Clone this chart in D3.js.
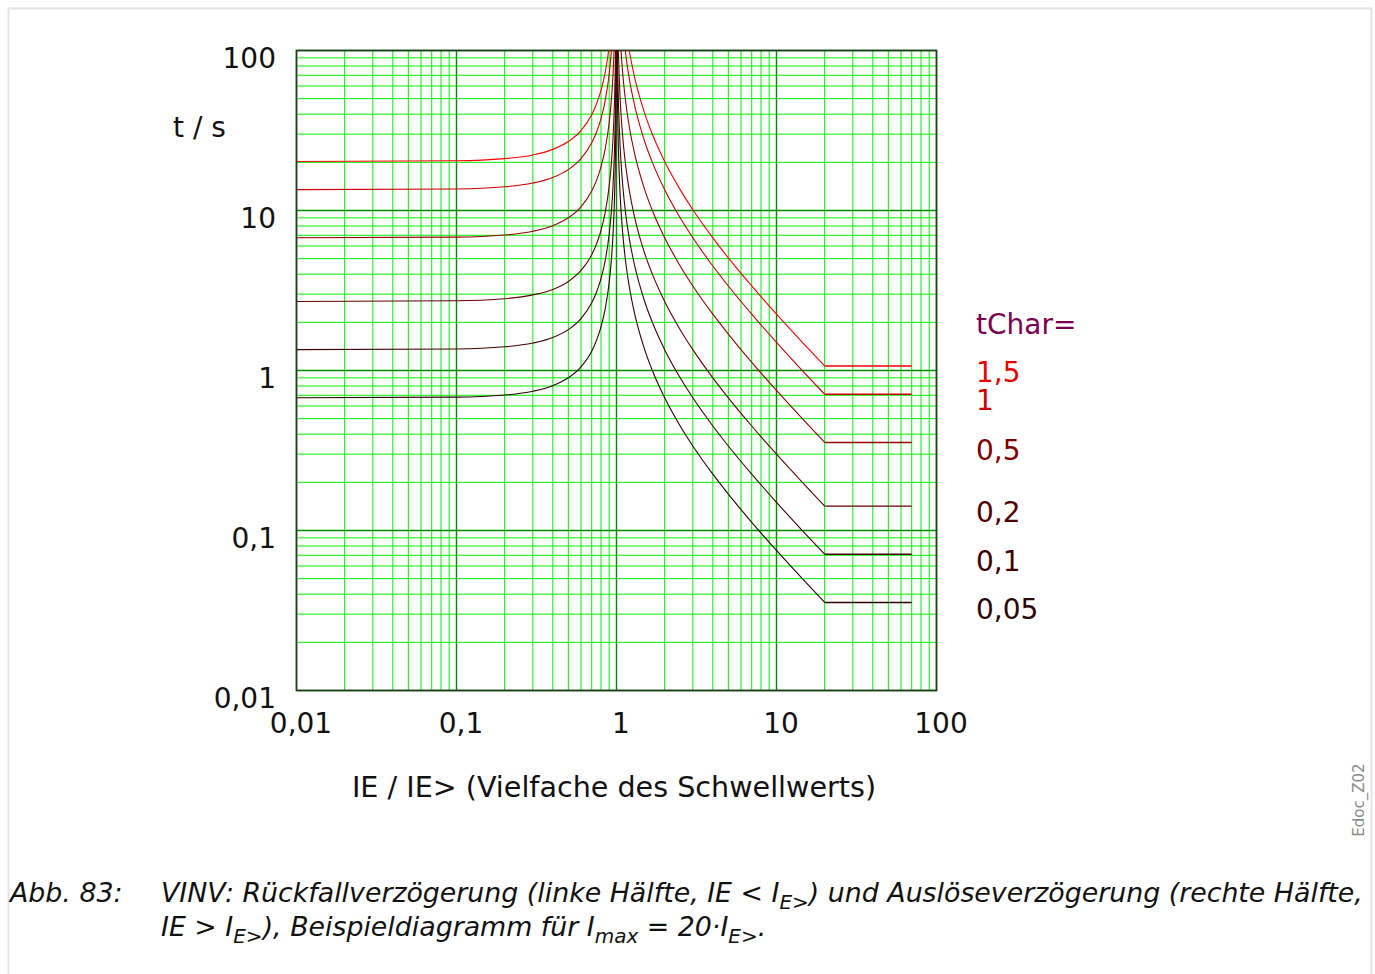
<!DOCTYPE html>
<html><head><meta charset="utf-8">
<script src="https://cdn.jsdelivr.net/npm/d3@7"></script>
<style>
html,body{margin:0;padding:0;background:#fff;}
svg{display:block;}
</style></head>
<body>
<svg id="chart" width="1375" height="974"></svg>
<script>
// ---- data ----
const tChar = [0.05, 0.1, 0.2, 0.5, 1, 1.5];
const tCharLabels = ["0,05", "0,1", "0,2", "0,5", "1", "1,5"];
const curveColors = ["#2e0000", "#440000", "#620000", "#990000", "#cc0000", "#ff0000"];
const labelColors = ["#2a0808", "#3c0000", "#500000", "#800000", "#c80000", "#e60000"];

const xTickValues = [0.01, 0.1, 1, 10, 100];
const xTickLabels = ["0,01", "0,1", "1", "10", "100"];
const yTickValues = [0.01, 0.1, 1, 10, 100];
const yTickLabels = ["0,01", "0,1", "1", "10", "100"];

// reset delay (left half), I/I> < 1
const xReset = [0.01, 0.1, 0.2, 0.3, 0.4, 0.5, 0.6, 0.7, 0.75, 0.8, 0.85, 0.9, 0.93, 0.95, 0.97, 0.98, 0.99, 0.995, 0.998];
const reset005 = [0.675, 0.682, 0.703, 0.742, 0.804, 0.90, 1.055, 1.32, 1.543, 1.875, 2.43, 3.55, 5.0, 6.92, 11.4, 17.0, 33.9, 67.7, 169];
const reset01  = [1.35, 1.364, 1.406, 1.484, 1.607, 1.80, 2.109, 2.647, 3.086, 3.75, 4.865, 7.105, 9.99, 13.85, 22.84, 34.1, 67.8, 135, 338];
const reset02  = [2.70, 2.727, 2.81, 2.97, 3.21, 3.60, 4.22, 5.29, 6.17, 7.50, 9.73, 14.2, 20.0, 27.7, 45.7, 68.2, 135.7, 271, 676];
const reset05  = [6.75, 6.82, 7.03, 7.42, 8.04, 9.00, 10.55, 13.24, 15.43, 18.75, 24.3, 35.5, 50.0, 69.2, 114, 170, 339, 677, 1689];
const reset1   = [13.5, 13.64, 14.06, 14.84, 16.07, 18.0, 21.09, 26.47, 30.86, 37.5, 48.65, 71.05, 99.9, 138.5, 228, 341, 678, 1353, 3378];
const reset15  = [20.25, 20.45, 21.1, 22.25, 24.1, 27.0, 31.6, 39.7, 46.3, 56.25, 73.0, 106.6, 150, 208, 343, 511, 1018, 2030, 5067];

// trip delay (right half), I/I> > 1, constant above Imax = 20
const xTrip = [1.005, 1.01, 1.02, 1.03, 1.05, 1.07, 1.1, 1.15, 1.2, 1.3, 1.5, 1.7, 2, 2.5, 3, 4, 5, 7, 10, 15, 20];
const xTripEnd = 70;
const trip005 = [135, 67.5, 33.75, 22.5, 13.5, 9.64, 6.75, 4.5, 3.375, 2.25, 1.35, 0.964, 0.675, 0.45, 0.3375, 0.225, 0.169, 0.1125, 0.075, 0.0482, 0.0355];
const trip01  = [270, 135, 67.5, 45, 27, 19.29, 13.5, 9.0, 6.75, 4.5, 2.7, 1.93, 1.35, 0.9, 0.675, 0.45, 0.3375, 0.225, 0.15, 0.0964, 0.0711];
const trip02  = [540, 270, 135, 90, 54, 38.6, 27, 18, 13.5, 9.0, 5.4, 3.86, 2.7, 1.8, 1.35, 0.9, 0.675, 0.45, 0.3, 0.193, 0.142];
const trip05  = [1350, 675, 337.5, 225, 135, 96.4, 67.5, 45, 33.75, 22.5, 13.5, 9.64, 6.75, 4.5, 3.375, 2.25, 1.69, 1.125, 0.75, 0.482, 0.355];
const trip1   = [2700, 1350, 675, 450, 270, 192.9, 135, 90, 67.5, 45, 27, 19.29, 13.5, 9.0, 6.75, 4.5, 3.375, 2.25, 1.5, 0.964, 0.7105];
const trip15  = [4050, 2025, 1012, 675, 405, 289, 202.5, 135, 101, 67.5, 40.5, 28.9, 20.25, 13.5, 10.1, 6.75, 5.06, 3.375, 2.25, 1.446, 1.066];

const resetSeries = [reset005, reset01, reset02, reset05, reset1, reset15];
const tripSeries = [trip005, trip01, trip02, trip05, trip1, trip15];
const legendY = [619, 571, 522, 460, 410, 382];

// ---- drawing ----
const svg = d3.select("#chart");
const L = 296.5, T = 50.5, W = 640, H = 640;
const x = d3.scaleLog().domain([0.01, 100]).range([L, L + W]);
const y = d3.scaleLog().domain([0.01, 100]).range([T + H, T]);

// outer frame
svg.append("rect").attr("x", 8.5).attr("y", 8.5).attr("width", 1363).attr("height", 1000)
  .attr("fill", "none").attr("stroke", "#e4e4e4").attr("stroke-width", 2);

// grid
const minor = [];
for (let e = -2; e < 2; e++) for (let m = 2; m <= 9; m++) minor.push(m * Math.pow(10, e));
const g = svg.append("g");
g.selectAll(".vx").data(minor).join("line")
  .attr("x1", d => x(d)).attr("x2", d => x(d)).attr("y1", T).attr("y2", T + H)
  .attr("stroke", "#00ee00").attr("stroke-width", 1);
g.selectAll(".hy").data(minor).join("line")
  .attr("y1", d => y(d)).attr("y2", d => y(d)).attr("x1", L).attr("x2", L + W)
  .attr("stroke", "#00ee00").attr("stroke-width", 1);
g.selectAll(".vmaj").data(xTickValues).join("line")
  .attr("x1", d => x(d)).attr("x2", d => x(d)).attr("y1", T).attr("y2", T + H)
  .attr("stroke", "#008a00").attr("stroke-width", 1.4);
g.selectAll(".hmaj").data(yTickValues).join("line")
  .attr("y1", d => y(d)).attr("y2", d => y(d)).attr("x1", L).attr("x2", L + W)
  .attr("stroke", "#008a00").attr("stroke-width", 1.4);
svg.append("rect").attr("x", L).attr("y", T).attr("width", W).attr("height", H)
  .attr("fill", "none").attr("stroke", "#1f3a1f").attr("stroke-width", 1.6);

// clip
svg.append("clipPath").attr("id", "clip").append("rect")
  .attr("x", L).attr("y", T).attr("width", W).attr("height", H);
const curves = svg.append("g").attr("clip-path", "url(#clip)");
const lineGen = d3.line().x(d => x(d[0])).y(d => y(d[1])).curve(d3.curveMonotoneX);
const straight = d3.line().x(d => x(d[0])).y(d => y(d[1]));

tChar.forEach((tc, i) => {
  const rs = xReset.map((v, k) => [v, resetSeries[i][k]]);
  const ts = xTrip.map((v, k) => [v, tripSeries[i][k]]);
  const last = tripSeries[i][tripSeries[i].length - 1];
  curves.append("path").attr("d", lineGen(rs)).attr("fill", "none")
    .attr("stroke", curveColors[i]).attr("stroke-width", 1.1);
  curves.append("path").attr("d", lineGen(ts)).attr("fill", "none")
    .attr("stroke", curveColors[i]).attr("stroke-width", 1.1);
  curves.append("path").attr("d", straight([[xTrip[xTrip.length - 1], last], [xTripEnd, last]])).attr("fill", "none")
    .attr("stroke", curveColors[i]).attr("stroke-width", 1.4);
});

// axes labels
const font = "DejaVu Sans, sans-serif";
svg.selectAll(".yl").data(yTickValues).join("text")
  .attr("x", 276).attr("y", d => y(d) + 17.5).attr("text-anchor", "end")
  .attr("font-family", font).attr("font-size", 28).attr("fill", "#111")
  .text((d, i) => yTickLabels[i]);
svg.selectAll(".xl").data(xTickValues).join("text")
  .attr("x", d => x(d) + 4.5).attr("y", 733).attr("text-anchor", "middle")
  .attr("font-family", font).attr("font-size", 28).attr("fill", "#111")
  .text((d, i) => xTickLabels[i]);
svg.append("text").attr("x", 199.5).attr("y", 137).attr("text-anchor", "middle")
  .attr("font-family", font).attr("font-size", 28).attr("fill", "#111").text("t / s");
svg.append("text").attr("x", 614).attr("y", 797).attr("text-anchor", "middle")
  .attr("font-family", font).attr("font-size", 28.6).attr("fill", "#111")
  .text("IE / IE> (Vielfache des Schwellwerts)");

// legend
svg.append("text").attr("x", 976).attr("y", 334).attr("font-family", font).attr("font-size", 28)
  .attr("fill", "#7a0052").text("tChar=");
tChar.forEach((tc, i) => {
  svg.append("text").attr("x", 976).attr("y", legendY[i]).attr("font-family", font).attr("font-size", 28)
    .attr("fill", labelColors[i]).text(tCharLabels[i]);
});

// side note
svg.append("text").attr("transform", "translate(1364,800) rotate(-90)").attr("text-anchor", "middle")
  .attr("font-family", font).attr("font-size", 15).attr("fill", "#8a8a8a").text("Edoc_Z02");

// caption
const cf = "'DejaVu Sans', sans-serif";
const cap = svg.append("g").attr("font-family", cf).attr("font-style", "italic").attr("font-size", 26.8).attr("fill", "#111");
cap.append("text").attr("x", 10).attr("y", 902).text("Abb. 83:");
const l1 = cap.append("text").attr("x", 161).attr("y", 902);
l1.append("tspan").text("VINV: Rückfallverzögerung (linke Hälfte, IE < I");
l1.append("tspan").attr("dy", 7).attr("font-size", 20).text("E>");
l1.append("tspan").attr("dy", -7).text(") und Auslöseverzögerung (rechte Hälfte,");
const l2 = cap.append("text").attr("x", 161).attr("y", 936);
l2.append("tspan").text("IE > I");
l2.append("tspan").attr("dy", 7).attr("font-size", 20).text("E>");
l2.append("tspan").attr("dy", -7).text("), Beispieldiagramm für I");
l2.append("tspan").attr("dy", 7).attr("font-size", 20).text("max");
l2.append("tspan").attr("dy", -7).text(" = 20·I");
l2.append("tspan").attr("dy", 7).attr("font-size", 20).text("E>");
l2.append("tspan").attr("dy", -7).text(".");
</script>
</body></html>
